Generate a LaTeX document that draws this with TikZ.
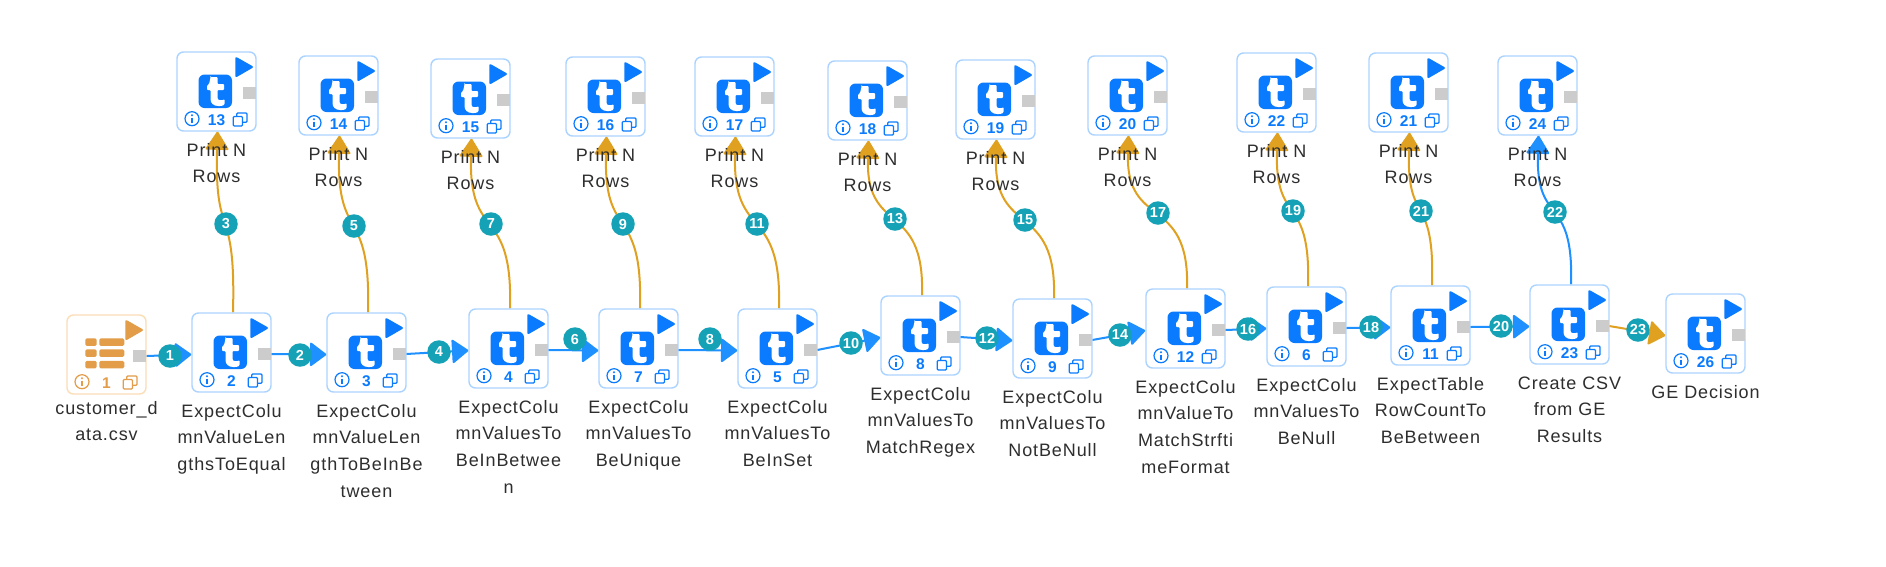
\documentclass[tikz,border=0pt]{standalone}
\usepackage{fontspec}
\setmainfont{Liberation Sans}
\newfontfamily\lblfont[LetterSpace=5]{Liberation Sans}
\newfontfamily\numfont{Liberation Sans}[BoldFont={Liberation Sans Bold}]
\usetikzlibrary{arrows.meta,calc}
\pgfdeclarelayer{bg}
\pgfsetlayers{bg,main}
\definecolor{bluemain}{HTML}{0A7BFF}
\definecolor{blueedge}{HTML}{ABD3FF}
\definecolor{bluearrow}{HTML}{1E90FF}
\definecolor{orgmain}{HTML}{E39C48}
\definecolor{orgedge}{HTML}{FBDDB8}
\definecolor{orgline}{HTML}{E0A020}
\definecolor{teal}{HTML}{15A2B6}
\definecolor{portgray}{HTML}{CCCCCC}
\definecolor{lbl}{HTML}{2E2E2E}
\tikzset{
  x=1pt,y=-1pt,
  boxnode/.style={draw=#1,line width=1.4pt,rounded corners=6.5pt,minimum width=79pt,minimum height=79pt,inner sep=0pt,fill=white},
  portnode/.style={fill=portgray,minimum width=12.5pt,minimum height=12.5pt,inner sep=0pt},
  lblnode/.style={inner sep=0pt,anchor=north,align=center,text=lbl,font=\lblfont\fontsize{18}{26.7}\selectfont},
  numnode/.style={inner sep=0pt,text=#1,font=\numfont\bfseries\fontsize{15.5}{16}\selectfont},
  badge/.style={circle,fill=teal,minimum size=23.5pt,inner sep=0pt,text=white,font=\numfont\bfseries\fontsize{14.5}{15}\selectfont},
  flowline/.style={line width=2pt,draw=#1,-{Triangle[length=17pt,width=25pt,round,fill=#1]}},
  upline/.style={line width=2pt,draw=#1,-{Triangle[length=19pt,width=24pt,round,fill=#1]}},
}
% footer and play marks shared by both kinds of box
\newcommand{\boxmarks}[1]{%
  \fill[#1,rounded corners=2pt] (58.3,4.4) -- (77,15) -- (58.3,25.8) -- cycle;
  \draw[#1,line width=1.2pt] (15,66.7) circle (7);
  \fill[#1] (15,63.3) circle (1.1);
  \draw[#1,line width=1.6pt] (15,65.6) -- (15,71);
  \draw[#1,line width=1.3pt,rounded corners=1pt] (59.7,64) -- (59.7,61) -- (70,61) -- (70,70.3) -- (65.5,70.3);
  \draw[#1,line width=1.3pt,rounded corners=1pt] (56.2,64.5) rectangle (65.5,74);
}
\newcommand{\tbox}[5]{%
  \node[boxnode=blueedge] (#1) at (#2+39.5,#3+39.5) {};
  \node[portnode] (#1p) at (#2+72.7,#3+41) {};
  \node[numnode=bluemain] (#1n) at (#2+39.5,#3+68) {#4};
  \node[lblnode] (#1l) at (#2+39.5,#3+90) {\rule{0pt}{14pt}#5};
  \begin{scope}[shift={(#2,#3)}]
    \boxmarks{bluemain}
    \fill[bluemain,rounded corners=6pt] (21.5,22.5) rectangle (55,56);
    \fill[white,rounded corners=0.8pt] (33.5,25) -- (40.5,25) -- (40.5,32) -- (47,32) -- (47,38) -- (40.5,38) -- (40.5,45)
      .. controls (40.5,47.5) and (42,48.2) .. (44,48.2) .. controls (45.5,48.2) and (46.5,47.8) .. (47.5,47.2)
      -- (47.5,52.5) .. controls (46,53.6) and (44,54) .. (42,54) .. controls (36.5,54) and (33.5,51) .. (33.5,46.5)
      -- (33.5,38) -- (30,38) -- (30,33.5) .. controls (32,32.5) and (33.2,29) .. cycle;
  \end{scope}
}
\newcommand{\flow}[6]{% from, to, number, badge x, badge y, colour
  \begin{pgfonlayer}{bg}
    \draw[flowline=#6] (#1p.east) -- ($(#2.west)+(0,2)$);
  \end{pgfonlayer}
  \node[badge] (b#3) at (#4,#5) {#3};
}
\newcommand{\upflow}[6]{% from, to, number, badge x, badge y, colour
  \coordinate (p0) at ($(#1.north)+(1.5,0)$);
  \coordinate (p3) at ($(#2.south)+(1,0)$);
  \coordinate (q1) at ($(p0)!0.62!(p3)$);
  \coordinate (q2) at ($(p3)!0.62!(p0)$);
  \coordinate (c1) at ($(p0 |- q1)+(3,0)$);
  \coordinate (c2) at ($(p3 |- q2)+(-3,0)$);
  \begin{pgfonlayer}{bg}
    \draw[upline=#6] (p0) .. controls (c1) and (c2) .. (p3);
  \end{pgfonlayer}
  \node[badge] (b#3) at (#4,#5) {#3};
}
\begin{document}
\begin{tikzpicture}
\useasboundingbox (0,0) rectangle (1886,566);
\begin{pgfonlayer}{bg}
\fill[white] (0,0) rectangle (1886,566);
\end{pgfonlayer}
% source
\node[boxnode=orgedge] (src) at (67+39.5,315+39.5) {};
\node[portnode] (srcp) at (67+72.7,315+41) {};
\node[numnode=orgmain] (srcn) at (67+39.5,315+68) {1};
\node[lblnode] (srcl) at (67+39.5,315+85) {\rule{0pt}{14pt}customer\_d\\ata.csv};
\begin{scope}[shift={(67,315)}]
  \boxmarks{orgmain}
  \foreach \yy in {23.3,34.3,45.8}{
    \fill[orgmain,rounded corners=1.5pt] (18.3,\yy) rectangle (29.7,\yy+7.5);
    \fill[orgmain,rounded corners=1.5pt] (32.3,\yy) rectangle (57.3,\yy+7.5);
  }
\end{scope}
% lower row
\tbox{a2}{192}{313}{2}{ExpectColu\\mnValueLen\\gthsToEqual}
\tbox{a3}{327}{313}{3}{ExpectColu\\mnValueLen\\gthToBeInBe\\tween}
\tbox{a4}{469}{309}{4}{ExpectColu\\mnValuesTo\\BeInBetwee\\n}
\tbox{a7}{599}{309}{7}{ExpectColu\\mnValuesTo\\BeUnique}
\tbox{a5}{738}{309}{5}{ExpectColu\\mnValuesTo\\BeInSet}
\tbox{a8}{881}{296}{8}{ExpectColu\\mnValuesTo\\MatchRegex}
\tbox{a9}{1013}{299}{9}{ExpectColu\\mnValuesTo\\NotBeNull}
\tbox{a12}{1146}{289}{12}{ExpectColu\\mnValueTo\\MatchStrfti\\meFormat}
\tbox{a6}{1267}{287}{6}{ExpectColu\\mnValuesTo\\BeNull}
\tbox{a11}{1391}{286}{11}{ExpectTable\\RowCountTo\\BeBetween}
\tbox{a23}{1530}{285}{23}{Create CSV\\from GE\\Results}
\tbox{a26}{1666}{294}{26}{GE Decision}
% upper row
\tbox{a13}{177}{52}{13}{Print N\\Rows}
\tbox{a14}{299}{56}{14}{Print N\\Rows}
\tbox{a15}{431}{59}{15}{Print N\\Rows}
\tbox{a16}{566}{57}{16}{Print N\\Rows}
\tbox{a17}{695}{57}{17}{Print N\\Rows}
\tbox{a18}{828}{61}{18}{Print N\\Rows}
\tbox{a19}{956}{60}{19}{Print N\\Rows}
\tbox{a20}{1088}{56}{20}{Print N\\Rows}
\tbox{a22}{1237}{53}{22}{Print N\\Rows}
\tbox{a21}{1369}{53}{21}{Print N\\Rows}
\tbox{a24}{1498}{56}{24}{Print N\\Rows}
% connectors along the row
\flow{src}{a2}{1}{170}{356}{bluearrow}
\flow{a2}{a3}{2}{300}{355}{bluearrow}
\flow{a3}{a4}{4}{439}{352}{bluearrow}
\flow{a4}{a7}{6}{575}{339}{bluearrow}
\flow{a7}{a5}{8}{710}{339}{bluearrow}
\flow{a5}{a8}{10}{851}{343}{bluearrow}
\flow{a8}{a9}{12}{987}{338}{bluearrow}
\flow{a9}{a12}{14}{1120}{335}{bluearrow}
\flow{a12}{a6}{16}{1248}{329}{bluearrow}
\flow{a6}{a11}{18}{1371}{327}{bluearrow}
\flow{a11}{a23}{20}{1501}{326}{bluearrow}
\flow{a23}{a26}{23}{1638}{330}{orgline}
% connectors up to the print boxes
\upflow{a2}{a13}{3}{226}{224}{orgline}
\upflow{a3}{a14}{5}{354}{226}{orgline}
\upflow{a4}{a15}{7}{491}{224}{orgline}
\upflow{a7}{a16}{9}{623}{224}{orgline}
\upflow{a5}{a17}{11}{757}{224}{orgline}
\upflow{a8}{a18}{13}{895}{219}{orgline}
\upflow{a9}{a19}{15}{1025}{220}{orgline}
\upflow{a12}{a20}{17}{1158}{213}{orgline}
\upflow{a6}{a22}{19}{1293}{211}{orgline}
\upflow{a11}{a21}{21}{1421}{211}{orgline}
\upflow{a23}{a24}{22}{1555}{212}{bluearrow}
\end{tikzpicture}
\end{document}
